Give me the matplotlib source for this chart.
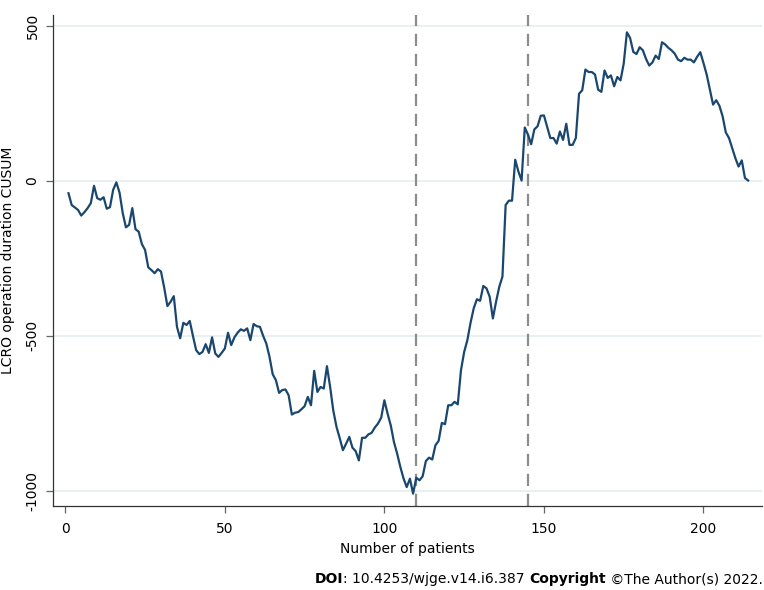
import numpy as np
import matplotlib
matplotlib.use("Agg")
import matplotlib.pyplot as plt
from matplotlib.offsetbox import TextArea, HPacker, AnnotationBbox

# --- data (CUSUM per patient) ---
patients = np.arange(1, 215)
cusum = [
    -40, -78, -86, -94, -112, -101, -88, -72, -16, -56,
    -61, -53, -90, -85, -29, -5, -38, -104, -150, -142,
    -88, -156, -164, -204, -223, -279, -288, -298, -285, -293,
    -345, -404, -390, -372, -471, -508, -458, -465, -452, -500,
    -546, -559, -552, -527, -555, -505, -557, -568, -555, -541,
    -490, -530, -505, -490, -479, -484, -476, -514, -462, -469,
    -471, -500, -525, -568, -624, -643, -684, -675, -673, -692,
    -754, -748, -746, -737, -727, -697, -724, -613, -681, -665,
    -670, -598, -665, -742, -794, -830, -869, -848, -826, -861,
    -872, -902, -829, -829, -818, -813, -796, -783, -764, -708,
    -751, -789, -843, -880, -923, -960, -988, -961, -1009, -958,
    -966, -953, -904, -893, -899, -853, -839, -781, -785, -724,
    -724, -713, -721, -611, -552, -514, -458, -411, -382, -387,
    -339, -347, -374, -444, -390, -342, -309, -78, -64, -64,
    68, 30, 1, 172, 149, 118, 166, 176, 210, 211,
    174, 138, 138, 120, 159, 132, 184, 116, 116, 138,
    281, 292, 359, 351, 351, 343, 294, 287, 356, 332,
    340, 305, 335, 324, 378, 479, 461, 416, 409, 431,
    421, 393, 372, 382, 404, 393, 447, 440, 429, 421,
    410, 391, 386, 397, 391, 391, 382, 400, 415, 380,
    343, 294, 246, 260, 242, 208, 156, 138, 106, 73,
    46, 66, 9, 1,
]
cut_points = [110, 145]
x_ticks = [0, 50, 100, 150, 200]
y_ticks = [-1000, -500, 0, 500]

plt.rcParams['font.family'] = ['DejaVu Sans']

fig = plt.figure(figsize=(7.64, 5.90), dpi=100)
ax = fig.add_axes([0.0698, 0.1429, 0.927, 0.8317])

ax.plot(patients, cusum, color="#1a476f", lw=1.6, zorder=3)
for c in cut_points:
    ax.axvline(c, color="#8c8c8c", lw=1.6, ls=(0, (5.5, 3.5)), zorder=2)

ax.set_xlim(-3.75, 218.2)
ax.set_ylim(-1048, 535)
ax.set_xticks(x_ticks)
ax.set_yticks(y_ticks)
ax.set_yticklabels([str(v) for v in y_ticks], rotation=90, va="center")
ax.yaxis.grid(True, color="#e4edf0", lw=1.2, zorder=0)
ax.set_axisbelow(True)

for s in ["top", "right"]:
    ax.spines[s].set_visible(False)
for s in ["left", "bottom"]:
    ax.spines[s].set_color("#333333")
    ax.spines[s].set_linewidth(0.9)
ax.tick_params(axis="both", direction="out", length=5, width=0.9,
               color="#666666", labelsize=10, labelcolor="black")
ax.tick_params(axis="x", pad=7)
ax.tick_params(axis="y", pad=5)

ax.set_xlabel("Number of patients", fontsize=10, labelpad=4)
ax.set_ylabel("LCRO operation duration CUSUM", fontsize=10)
ax.yaxis.set_label_coords(-0.054, 0.5)

# footer
parts = [
    TextArea("DOI", textprops=dict(fontsize=10, fontweight="bold")),
    TextArea(": 10.4253/wjge.v14.i6.387 ", textprops=dict(fontsize=10)),
    TextArea("Copyright", textprops=dict(fontsize=10, fontweight="bold")),
    TextArea(" \u00a9The Author(s) 2022.", textprops=dict(fontsize=10)),
]
box = HPacker(children=parts, align="baseline", pad=0, sep=0)
ab = AnnotationBbox(box, (0.998, 0.006), xycoords="figure fraction",
                    box_alignment=(1, 0), frameon=False)
fig.add_artist(ab)

fig.savefig("out.png", dpi=100)
